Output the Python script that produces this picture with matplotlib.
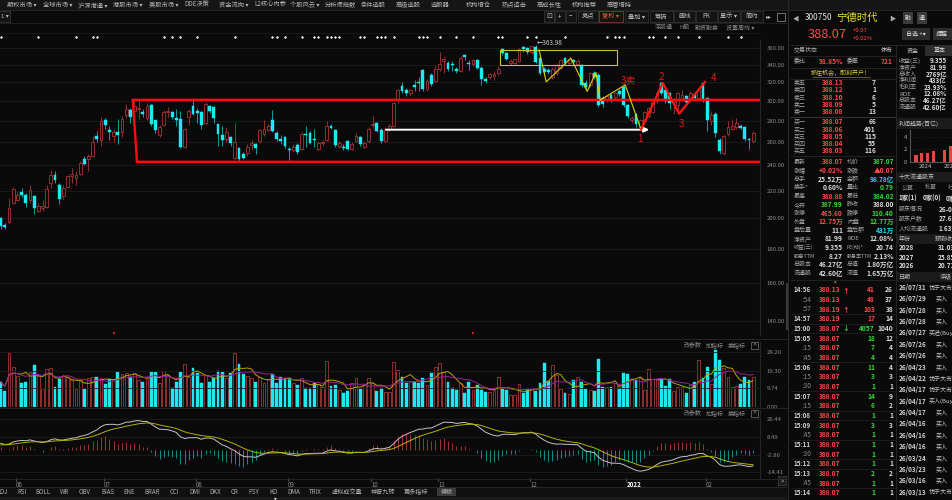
import numpy as np
import pandas as pd
import matplotlib
matplotlib.use("Agg")
import matplotlib.pyplot as plt
from matplotlib.patches import Rectangle
from matplotlib.ticker import FixedLocator, NullLocator
from matplotlib.transforms import blended_transform_factory

plt.rcParams['font.family'] = ['Noto Sans CJK SC', 'DejaVu Sans']

BG = '#0a0a0a'
UP = '#a83434'
DN = '#1de9f2'
DN_WICK = '#14b4bc'
RED = '#ff4a4a'
GREEN = '#35d935'
CYAN = '#19dcf5'
WHITE = '#dcdcdc'
GRAY = '#8c8c8c'
LINE = '#262626'

# ---- daily candles ----
opens = [200, 195.5, 197.5, 211, 213, 219, 217, 213, 215.7, 205,
         207.5, 208, 226, 232, 224.5, 215.7, 223, 231, 230, 233.2,
         245.7, 245, 248, 266, 262.3, 280.5, 271.5, 266, 269.5, 269,
         286, 290.8, 290, 292, 289, 282.5, 295.5, 280.5, 267, 276,
         288.5, 288.8, 282.5, 282, 256, 283.5, 294.5, 289.6, 289, 277.5,
         294.5, 293.9, 276.5, 266.3, 263, 265, 246.2, 254.7, 249.6, 250.3,
         257.5, 258, 261, 267.5, 271.3, 281, 268.8, 262.8, 264.6, 254.3,
         253, 257.4, 254.3, 267, 268.6, 263, 254.3, 259.5, 262.3, 275.3,
         271.3, 257, 256, 260.8, 254.3, 261, 264.6, 256, 260.8, 275.5,
         277.5, 271.3, 261, 272, 275.3, 301.8, 315.5, 311.6, 308, 317,
         319.8, 333.7, 312.5, 328, 321.5, 335.4, 344.5, 342, 341, 335.4,
         333, 351.4, 342, 340.3, 345.3, 336.5, 324, 325.6, 326.5, 330,
         358.4, 353.4, 341.8, 341.8, 344.5, 361, 360, 355, 361.6, 347.7,
         335.4, 334, 325.6, 330, 336.5, 347.7, 342, 345, 340.5, 339.5,
         318.8, 317, 330.6, 328, 302.8, 301.1, 306.3, 303.7, 310, 315,
         296, 280.5, 287, 274, 280, 284.5, 289, 299.4, 318.8, 311.6,
         307.9, 299, 296, 302, 304.5, 301, 306, 303, 318.8, 302.8,
         280, 287, 262.3, 250.6, 267.8, 272.4, 274.3, 275.3, 273.9, 262.8, 261]
highs = [201, 197, 214.5, 223, 219, 222, 218, 224, 217, 211,
         213, 224, 236, 235, 226, 224, 232, 238, 235, 244,
         248, 250, 266, 270, 284, 283, 275, 272, 282, 285,
         297, 293, 301, 301.7, 292, 298, 297, 281, 276, 291,
         294, 290, 292, 290, 273, 292, 303, 293, 290, 299,
         296, 295, 277, 275, 274, 266, 279, 256, 251, 258,
         262, 259, 272.6, 280.7, 277, 290.8, 270, 267, 266, 256,
         258, 259, 269, 275, 270, 272, 261, 262, 280, 277,
         272, 261, 258, 262, 260, 268, 266, 261, 274, 285,
         279, 273, 274, 277, 299, 313, 320, 314, 313, 322,
         326, 335, 323, 330, 340, 355, 349, 344, 344, 337,
         350, 353, 345, 347, 347, 338, 326, 330, 332, 338,
         360, 355, 346, 347, 360, 362, 361, 363, 363.98, 349,
         337, 336, 337, 342, 347, 349, 347, 346, 346, 341,
         322, 331, 332, 330, 305, 306, 308, 309, 312, 317,
         297, 285, 288, 282, 290, 294, 302, 310, 320, 313,
         309, 303, 309, 311, 306, 310, 309, 313, 320, 304,
         290, 289, 264, 267, 280, 282, 283, 277, 275, 264, 270]
lows = [193, 193, 197, 210, 212, 215, 208, 211, 203, 204,
        205, 207, 222, 226, 210, 214, 222, 226, 224, 232,
        240, 235, 247, 260, 257, 272, 262, 260, 258, 265,
        283, 278, 288, 282, 284, 281, 275, 268, 265, 275,
        284, 282, 275, 255, 255, 276, 286, 278, 272, 276,
        288, 278, 257, 257, 260, 257, 245, 243, 245, 248,
        253, 250, 259, 266, 270, 269, 261, 258, 255, 244.5,
        251, 250, 253, 256, 258, 256, 253, 257, 261, 272,
        256, 255, 253, 253, 253, 260, 257, 255, 259, 274,
        269, 259, 260, 270, 274, 298, 308, 305, 305, 310,
        310, 310, 310, 316, 320, 333, 330, 333, 332, 330,
        331, 345, 334, 338, 335, 317, 319, 323, 322, 328,
        352, 345, 340, 340, 343, 355, 353, 353, 342, 328,
        330, 329, 324, 328, 335, 340, 340, 341, 339, 315,
        313, 315, 323, 294, 294, 299, 299, 302, 305, 294,
        283, 278, 274, 271.6, 278, 283, 288, 298, 306, 298,
        292, 287, 290, 300, 297, 299, 301, 301, 299, 270,
        276, 265, 250, 249, 266, 271, 272, 272, 261, 253.8, 259]
closes = [195, 194, 207, 221.5, 217, 216.5, 210.6, 220.7, 207.3, 208.6,
          208.5, 221.4, 232, 228, 214, 221.9, 231, 233, 232, 242.3,
          241.3, 248, 260, 262.5, 279.4, 276, 269, 269.3, 266.5, 282,
          291.5, 283.5, 294.5, 293, 287, 295, 276.5, 271.5, 274, 289,
          289.5, 284, 280.5, 256, 272, 289.6, 287, 287.5, 276, 296.5,
          290, 282.5, 267.3, 262.3, 269, 259.5, 260, 245.3, 246.4, 255.8,
          259.5, 255, 271.3, 272, 275.3, 270.3, 262.8, 261.5, 256.3, 253.2,
          256, 251.6, 267.8, 266.5, 259.6, 262, 259.6, 260.5, 275.3, 273.5,
          257.1, 259.5, 255, 254.3, 258.5, 266, 258.5, 259, 272.4, 277,
          270.5, 261, 272, 275.3, 297.7, 311.6, 309.8, 308, 311.8, 315,
          319, 312.5, 321, 318, 335.4, 341, 346.5, 335.4, 339, 333,
          347.7, 349.3, 340.3, 345.3, 336.5, 324, 321.5, 328.7, 329.5, 335.4,
          353.4, 346.2, 344.5, 346, 358.4, 358.5, 355, 362, 343.3, 330,
          331.8, 331.8, 335.4, 340, 345, 342, 345, 343, 344.5, 317,
          315, 330, 325.6, 296, 297, 304.5, 301, 307.9, 307, 296,
          285, 283, 277, 281, 289, 292.5, 301, 308, 308, 299.4,
          297.7, 302, 308, 306, 299, 308, 303, 311, 301, 281,
          286, 268, 252, 265.4, 274.2, 275.3, 277.5, 273.5, 262.8, 261.6, 268.6]
# volume in 万手
volumes = [13.3, 8.4, 28.8, 21.0, 16.4, 12.5, 13.0, 18.7, 22.2, 16.4,
           9.8, 20.1, 20.5, 10.7, 14.6, 16.4, 16.0, 14.2, 9.3, 14.2,
           9.4, 15.1, 16.0, 15.7, 15.1, 11.9, 14.6, 14.6, 18.7, 17.3,
           17.8, 16.0, 17.8, 14.2, 13.0, 14.8, 18.5, 18.5, 12.5, 19.2,
           16.9, 9.8, 13.3, 18.5, 22.6, 15.7, 20.8, 17.8, 12.8, 16.9,
           13.3, 15.1, 19.0, 18.3, 15.1, 17.8, 28.8, 22.8, 17.4, 16.4,
           15.1, 13.3, 16.0, 12.5, 14.6, 17.4, 12.5, 16.0, 15.1, 15.1,
           12.5, 11.6, 15.1, 9.8, 9.8, 12.5, 12.1, 10.7, 24.4, 11.2,
           11.4, 8.9, 7.1, 8.5, 12.5, 15.1, 9.3, 11.6, 15.1, 12.5,
           8.4, 9.8, 8.0, 8.0, 23.7, 19.6, 15.7, 12.8, 13.9, 13.3,
           12.5, 15.1, 11.6, 17.8, 21.0, 23.1, 18.3, 13.3, 9.8, 8.9,
           12.5, 7.1, 13.3, 8.9, 11.6,
           8.9, 8.0, 8.0, 8.9, 16.0, 9.3, 8.9, 6.2, 6.2, 12.1,
           7.5, 9.3, 9.4, 8.5, 12.5, 23.1, 13.9, 22.2, 16.9, 9.3,
           7.5, 6.8, 14.2, 16.0, 13.0, 9.3, 8.9, 8.5, 25.3, 10.3,
           10.3, 10.3, 12.8, 9.8, 18.1, 17.3, 14.8, 14.2, 15.1, 8.9,
           19.9, 14.6, 14.2, 14.6, 11.0, 14.6, 8.5, 10.7, 10.7, 7.5,
           11.6, 13.3, 24.9, 15.1, 21.4, 12.1, 30.2, 24.9, 20.5, 16.0,
           10.7, 11.2, 11.9, 16.0, 14.2, 16.0]

month_idx = [4, 25, 47, 69, 89, 105, 127, 150, 169]
month_lbl = ['06', '07', '08', '09', '10', '11', '12', '2022', '02']
price_ticks = [140, 160, 180, 200, 220, 240, 260, 280, 300, 320, 340, 360]
vol_ticks = [0, 9.74, 19.30, 29.20]
macd_ticks = [-14.41, -2.86, 8.49, 20.44]
# MACD state before the first visible day
dif_start, dea_start = 4.6, 3.5

# event markers above the candles, red marks at the bottom
event_idx = [0, 9, 18, 22, 23, 39, 41, 43, 47, 56, 65, 66, 68, 72, 75, 76, 78, 79,
             80, 81, 86, 87, 90, 91, 92, 94, 100, 101, 102, 105, 109, 113, 119, 120,
             126, 128, 135, 145, 147, 148, 149, 155, 156, 159, 162, 167, 174, 177]
red_mark_idx = [27, 113]

# hand drawings on the chart (candle index, price)
box_top, box_bottom = 301, 243
box_left = (31.6, 32.6)
arrow_y, arrow_x = 271.5, (91.5, 155.8)
ybox_x, ybox_y = (119.5, 147.4), (339.5, 358)
yzz_x = [128.8, 130.5, 136.4, 140.3, 142.4, 143.4, 149.4, 153.2]
yzz_y = [357.5, 320.2, 347.7, 309.9, 330.8, 300.7, 317.0, 271.6]
rzz_x = [153.2, 158.4, 162.3, 168.5]
rzz_y = [271.6, 319.1, 286.9, 320.2]
wave_labels = [("3卖", 150.1, 322.3), ("1", 152.9, 263.2), ("2", 158.0, 325.9),
               ("3", 162.8, 277.3), ("4", 170.6, 324.8)]
hi_idx, hi_val = 128, 363.98

# ---- figure ----
W, H = 953, 500
fig = plt.figure(figsize=(W / 100, H / 100), dpi=100, facecolor=BG)


def px_axes(x0, y0, x1, y1):
    a = fig.add_axes([x0 / W, 1 - y1 / H, (x1 - x0) / W, (y1 - y0) / H])
    a.set_facecolor(BG)
    for s in a.spines.values():
        s.set_visible(False)
    return a


n = len(closes)
x = np.arange(n)
o = np.array(opens); c = np.array(closes); hi = np.array(highs); lo = np.array(lows)
v = np.array(volumes)
up = c >= o
XL = (-0.17, 181.65)

# price panel
ax = px_axes(0, 40, 760, 335)
ax.set_yscale('log')
ax.set_xlim(*XL)
ax.set_ylim(133.6, 370.1)
ax.yaxis.set_major_locator(FixedLocator(price_ticks))
ax.yaxis.set_minor_locator(NullLocator())
ax.set_yticklabels([f"{t:.2f}" for t in price_ticks])
ax.yaxis.tick_right()
ax.tick_params(axis='y', length=0, pad=5, labelsize=4.3, labelcolor=GRAY)
ax.set_xticks([])
ax.grid(axis='y', color='#1c1c1c', lw=0.6)
ax.spines['right'].set_visible(True)
ax.spines['right'].set_color(LINE)

ax.vlines(x[up], lo[up], hi[up], color=UP, lw=0.6, zorder=2)
ax.vlines(x[~up], lo[~up], hi[~up], color=DN_WICK, lw=0.6, zorder=2)
body = np.maximum(np.abs(c - o), 0.6)
ax.bar(x[up], body[up], bottom=np.minimum(o, c)[up], width=0.68,
       facecolor=BG, edgecolor=UP, lw=0.6, zorder=3)
ax.bar(x[~up], body[~up], bottom=np.minimum(o, c)[~up], width=0.68,
       facecolor=DN, edgecolor=DN, lw=0.3, zorder=3)

ax.plot([XL[1], box_left[0], box_left[1], XL[1]], [box_top, box_top, box_bottom, box_bottom],
        color='#ff0a0a', lw=1.7, zorder=5, solid_joinstyle='miter')
ax.annotate('', xy=(arrow_x[1], arrow_y), xytext=(arrow_x[0], arrow_y),
            arrowprops=dict(arrowstyle='-|>', color='white', lw=1.4, mutation_scale=7), zorder=5)
ax.add_patch(Rectangle((ybox_x[0], ybox_y[0]), ybox_x[1] - ybox_x[0], ybox_y[1] - ybox_y[0],
                       fill=False, edgecolor='#c8c81e', lw=0.8, zorder=5))
ax.plot(yzz_x, yzz_y, color='#d6d600', lw=0.8, zorder=5)
ax.plot(rzz_x, rzz_y, color='#ff1515', lw=1.6, zorder=5)
for s, lx, ly in wave_labels:
    ax.text(lx, ly, s, color='#e01818', fontsize=7.2, ha='center', va='center', zorder=6)
ax.annotate('←363.98', xy=(hi_idx, hi_val), xytext=(hi_idx + 0.2, hi_val * 1.006),
            color='#d0d0d0', fontsize=4.6, ha='left', va='center')
btr = blended_transform_factory(ax.transData, ax.transAxes)
ax.scatter(event_idx, [1.011] * len(event_idx), s=2.5, marker='D', color='#e8e8e8',
           transform=btr, clip_on=False, lw=0)
ax.scatter(red_mark_idx, [0.008] * len(red_mark_idx), s=3, marker='s', color='#d02020',
           transform=btr, clip_on=False, lw=0)

# volume panel
av = px_axes(0, 342, 760, 406.7)
av.set_xlim(*XL)
av.set_ylim(0, 34.5)
av.yaxis.tick_right()
av.set_yticks(vol_ticks)
av.set_yticklabels([f"{t:.2f}" for t in vol_ticks])
av.tick_params(axis='y', length=0, pad=5, labelsize=4.3, labelcolor=GRAY)
av.set_xticks([])
av.grid(axis='y', color='#1c1c1c', lw=0.6)
av.spines['right'].set_visible(True)
av.spines['right'].set_color(LINE)
av.bar(x[up], v[up], width=0.68, facecolor=BG, edgecolor=UP, lw=0.6)
av.bar(x[~up], v[~up], width=0.68, facecolor=DN, edgecolor=DN, lw=0.3)
vs = pd.Series(v)
av.plot(x, vs.rolling(5, min_periods=1).mean(), color='#b0a800', lw=0.7)
av.plot(x, vs.rolling(10, min_periods=1).mean(), color='#9b1fa0', lw=0.7)

# MACD panel
am = px_axes(0, 410, 760, 478)
am.set_xlim(*XL)
am.set_ylim(-18.1, 26.3)
e12 = [c[0] + dif_start * 1.2]
e26 = [c[0] + dif_start * 0.2]
for p in c[1:]:
    e12.append(e12[-1] + 2 / 13 * (p - e12[-1]))
    e26.append(e26[-1] + 2 / 27 * (p - e26[-1]))
dif = np.array(e12) - np.array(e26)
dea = [dea_start]
for d in dif[1:]:
    dea.append(dea[-1] + 2 / 10 * (d - dea[-1]))
dea = np.array(dea)
hist = 2 * (dif - dea)
am.vlines(x[hist >= 0], 0, hist[hist >= 0], color='#a03333', lw=0.7)
am.vlines(x[hist < 0], 0, hist[hist < 0], color='#128c8c', lw=0.7)
am.plot(x, dif, color='#c4c4c4', lw=0.7)
am.plot(x, dea, color='#b5b000', lw=0.7)
am.yaxis.tick_right()
am.set_yticks(macd_ticks)
am.set_yticklabels([f"{t:.2f}" for t in macd_ticks])
am.tick_params(axis='y', length=0, pad=5, labelsize=4.3, labelcolor=GRAY)
am.grid(axis='y', color='#1c1c1c', lw=0.6)
am.set_xticks([i - 0.3 for i in month_idx])
am.set_xticklabels(month_lbl)
am.tick_params(axis='x', length=2, color='#555555', labelsize=4.4, labelcolor=GRAY, pad=0.2)
plt.setp(am.get_xticklabels(), ha='left')
for lbl in am.get_xticklabels():
    if lbl.get_text() == '2022':
        lbl.set_color('white'); lbl.set_fontweight('bold')
am.spines['right'].set_visible(True)
am.spines['right'].set_color(LINE)

# ---- UI chrome ----
ui = fig.add_axes([0, 0, 1, 1], zorder=10)
ui.set_xlim(0, W); ui.set_ylim(H, 0); ui.axis('off'); ui.patch.set_alpha(0)


def T(x0, y0, s, col=WHITE, fs=4.5, ha='left', va='center', **kw):
    ui.text(x0, y0, s, color=col, fontsize=fs, ha=ha, va=va, **kw)


def R(x0, y0, x1, y1, fc='none', ec='none', lw=0.6):
    ui.add_patch(Rectangle((x0, y0), x1 - x0, y1 - y0, facecolor=fc, edgecolor=ec, lw=lw))


def L(x0, y0, x1, y1, col=LINE, lw=0.6):
    ui.plot([x0, x1], [y0, y1], color=col, lw=lw, solid_capstyle='butt')


# top menu
R(0, 0, W, 10, fc='#151515')
menu = [("期权市场 ▾", 7), ("全球市场 ▾", 43), ("沪深港通 ▾", 78), ("港股市场 ▾", 113),
        ("美股市场 ▾", 149), ("DDE决策", 184), ("资金流向 ▾", 219), ("L2核心内参", 254),
        ("个股风云 ▾", 290), ("分析师指数", 325), ("条件选股", 361), ("高级选股", 396),
        ("选股器", 431), ("机构增仓", 466), ("热点追击", 502), ("高成长性", 537),
        ("机构推荐", 572), ("高管增持", 607)]
for s, mx in menu:
    T(mx, 5, s, '#b4b4b4', 4.5)
L(0, 10, W, 10, '#2a2a2a')

# toolbar
R(-1, 11, 10, 22, fc='#141414', ec='#333333')
T(1, 16.5, "1 ▾", '#bbbbbb', 4.3)
R(544, 11, 554, 22, fc='#141414', ec='#333333')
T(549, 16.5, "⊡", '#bbbbbb', 5, ha='center')
buttons = [("+", 555, 565), ("−", 566, 576), ("亮点", 578, 598), ("复权 ▾", 599, 623),
           ("叠加 ▾", 625, 648), ("筹码", 650, 673), ("画线", 674, 695), ("PK", 696, 717),
           ("显示 ▾", 718, 740), ("简约", 741, 763)]
for s, bx0, bx1 in buttons:
    hot = s.startswith("复权")
    R(bx0, 11, bx1, 22, fc='#131313', ec='#8a3a1a' if hot else '#303030')
    T((bx0 + bx1) / 2, 16.5, s, '#e06030' if hot else '#c0c0c0', 4.5, ha='center')
T(769, 16.5, "▸▸", '#bbbbbb', 4.2, ha='center')
R(777, 12.5, 785, 20.5, ec='#999999', lw=0.5)
L(0, 22.5, 787, 22.5, '#232323')
for s, sx in [("深股通", 655), ("H股", 679), ("融资融券", 695), ("设置周线 ▾", 726)]:
    T(sx, 27.5, s, '#8a8a8a', 4.3)
L(0, 33, 760, 33, '#1a1a1a')

# chart separators and panel headers
L(0, 338.5, 787, 338.5, '#2a2a2a')
L(0, 408, 787, 408, '#2a2a2a')
L(0, 478.5, 787, 478.5, '#2a2a2a')
for hy in (345, 413):
    for s, hx in [("改参数", 684), ("加指标", 706), ("换指标", 728)]:
        T(hx, hy, s, '#8a8a8a', 4.3)
    R(751, hy - 3.5, 758, hy + 3.5, ec='#777777', lw=0.5)
    T(754.5, hy, "×", '#999999', 4.3, ha='center')
L(788, 0, 788, H, '#2a2a2a', 0.8)
R(786.5, 283, 789.5, 330, fc='#3a3a3a')
R(778, 476, 786, 485, fc='#1c1c1c', ec='#444444', lw=0.5)
T(782, 480.5, "»", '#bbbbbb', 4.5, ha='center')

# indicator tabs
R(0, 487, 787, 497, fc='#101010')
L(0, 487, 787, 487, '#2a2a2a')
tabs = [("KDJ", 7.5), ("RSI", 17), ("BOLL", 35), ("WR", 60), ("OBV", 79), ("BIAS", 101),
        ("ENE", 123), ("BRAR", 144), ("CCI", 170), ("DMI", 189), ("DKX", 209), ("CR", 231),
        ("PSY", 248), ("KD", 269), ("DMA", 287), ("TRIX", 309), ("虚拟成交量", 332),
        ("神奇九转", 371), ("更多指标", 404), ("模板", 441)]
R(437, 487.5, 456, 496, fc='#3a3a3a')
for s, tx in tabs:
    T(tx, 492, s, '#b0b0b0', 4.4, ha='right' if s == 'KDJ' else 'left')
R(0, 497, 787, 500, fc='#1a1a1a')
T(275, 498.5, "▾", '#dddddd', 4, ha='center')

# ---- right panel ----
T(796, 18, "◀", '#aaaaaa', 4.5, ha='center')
T(805, 18, "300750", '#e0e0e0', 6.0)
T(836, 18, "宁德时代", '#e8e030', 7.5)
T(892, 18, "▶", '#aaaaaa', 4.5, ha='center')
for s, bx in [("融", 903), ("通", 917)]:
    R(bx, 12, bx + 10, 24, fc='#3c3c3c')
    T(bx + 5, 18, s, '#dddddd', 4.3, ha='center')
T(808, 34, "388.07", RED, 9.2)
T(853, 30, "+0.07", RED, 4.3)
T(853, 38, "+0.02%", RED, 4.3)
R(902, 28, 930, 40, fc='#2c2c2c')
T(916, 34, "自选 +▾", '#dddddd', 4.3, ha='center')
R(933, 28, 955, 40, fc='#2c2c2c')
T(936, 34, "提醒", '#dddddd', 4.3)
L(790, 44.5, W, 44.5, '#2a2a2a')
L(896.5, 44.5, 896.5, H, '#2a2a2a')

T(794, 50.5, "交易状态", '#b0b0b0', 4.3)
T(893, 50.5, "休市", '#dddddd', 4.3, ha='right')
R(925, 45, 955, 56, fc='#2e2e2e')
T(913, 50.5, "资金", '#c0c0c0', 4.3, ha='center')
T(940, 50.5, "基本", '#dddddd', 4.3, ha='center')
L(790, 56, 896, 56)
T(794, 61.7, "委比", '#b0b0b0', 4.3)
T(843, 61.7, "91.85%", RED, 4.8, ha='right', fontweight='bold')
T(847, 61.7, "委差", '#b0b0b0', 4.3)
T(893, 61.7, "721", RED, 4.8, ha='right', fontweight='bold')
L(790, 67.5, 896, 67.5)
T(841, 73, "抓住机会，即刻开户！", '#d8d040', 4.3, ha='center')
L(812, 77, 870, 77, '#a8a030', 0.4)
L(790, 78.5, 896, 78.5)

sell_book = [("卖五", "388.13", "7"), ("卖四", "388.12", "1"), ("卖三", "388.10", "6"),
             ("卖二", "388.09", "5"), ("卖一", "388.08", "13")]
buy_book = [("买一", "388.07", "66"), ("买二", "388.06", "401"), ("买三", "388.05", "115"),
            ("买四", "388.04", "55"), ("买五", "388.03", "116")]
for k, (lab, pr, q) in enumerate(sell_book):
    yy = 82.7 + 7.25 * k
    T(794, yy, lab, '#a8a8a8', 4.3); T(822, yy, pr, RED, 4.8, fontweight='bold')
    T(876, yy, q, WHITE, 4.8, ha='right', fontweight='bold')
L(790, 116.5, 896, 116.5, '#3a3a3a')
for k, (lab, pr, q) in enumerate(buy_book):
    yy = 121.7 + 7.3 * k
    T(794, yy, lab, '#a8a8a8', 4.3); T(822, yy, pr, RED, 4.8, fontweight='bold')
    T(876, yy, q, WHITE, 4.8, ha='right', fontweight='bold')
L(790, 156, 896, 156)

quote_rows = [("最新", "388.07", RED, "均价", "387.07", GREEN),
              ("涨幅", "+0.02%", RED, "涨跌", "▲0.07", RED),
              ("总手", "25.52万", WHITE, "金额", "98.78亿", CYAN),
              ("换手*", "0.60%", WHITE, "量比", "0.79", GREEN),
              ("最高", "388.88", RED, "最低", "384.02", GREEN),
              ("今开", "387.99", GREEN, "昨收", "388.00", WHITE),
              ("涨停", "465.60", RED, "跌停", "310.40", GREEN),
              ("外盘", "12.75万", RED, "内盘", "12.77万", GREEN),
              ("盘后量", "111", WHITE, "盘后额", "431万", CYAN),
              ("净资产", "81.99", WHITE, "ROE", "12.08%", WHITE),
              ("收益(三)", "9.355", WHITE, "PE(动)*", "20.74", WHITE),
              ("股息TTM", "8.27", WHITE, "股息率TTM", "2.13%", WHITE),
              ("总股本", "46.27亿", WHITE, "总值", "1.80万亿", WHITE),
              ("流通股", "42.60亿", WHITE, "流值", "1.65万亿", WHITE)]
for k, (l1, v1, c1, l2, v2, c2) in enumerate(quote_rows):
    yy = 162 + 8.55 * k
    T(794, yy, l1, '#a8a8a8', 4.3 if len(l1) < 5 else 3.8)
    T(843, yy, v1, c1, 4.8, ha='right', fontweight='bold')
    T(847, yy, l2, '#a8a8a8', 4.3 if len(l2) < 6 else 3.6)
    T(894, yy, v2, c2, 4.8, ha='right', fontweight='bold')
L(790, 280, 896, 280)
T(835, 282, "▴", '#888888', 3.5, ha='center')

trades = [("14:56", "388.13", "↑", "41", "26"), (":54", "388.13", "", "48", "37"),
          (":57", "388.19", "↑", "103", "38"), ("14:57", "388.19", "", "17", "14"),
          ("15:00", "388.07", "↓", "4057", "1040"), ("15:05", "388.07", "", "18", "12"),
          (":15", "388.07", "", "7", "4"), (":45", "388.07", "", "4", "4"),
          ("15:06", "388.07", "", "11", "4"), (":15", "388.07", "", "3", "3"),
          (":30", "388.07", "", "1", "1"), ("15:07", "388.07", "", "14", "9"),
          (":15", "388.07", "", "6", "2"), ("15:08", "388.07", "", "1", "1"),
          ("15:09", "388.07", "", "3", "3"), (":45", "388.07", "", "1", "1"),
          ("15:11", "388.07", "", "1", "1"), (":30", "388.07", "", "1", "1"),
          ("15:12", "388.07", "", "1", "1"), ("15:13", "388.07", "", "2", "2"),
          (":45", "388.07", "", "1", "1"), ("15:14", "388.07", "", "1", "1")]
for k, (tm, pr, ar, q, cnt) in enumerate(trades):
    yy = 290 + 9.65 * k
    full = not tm.startswith(":")
    if full and k > 0:
        L(790, yy - 4.8, 896, yy - 4.8, '#1f1f1f')
    T(794 if full else 803, yy, tm, '#d0d0d0' if full else '#8a8a8a', 4.6,
      fontweight='bold' if full else 'normal')
    T(819, yy, pr, RED, 4.8, fontweight='bold')
    if ar:
        T(842, yy, ar, RED if ar == "↑" else GREEN, 4.8, fontweight='bold')
    T(875, yy, q, RED if k < 4 else GREEN, 4.8, ha='right', fontweight='bold')
    T(893, yy, cnt, WHITE, 4.8, ha='right', fontweight='bold')

fin_rows = [("收益(三)", "9.355"), ("净资产", "81.99"), ("总收入", "2769亿"), ("净利润", "433亿"),
            ("毛利率", "23.93%"), ("ROE", "12.08%"), ("总股本", "46.27亿"), ("流通股", "42.60亿")]
for k, (lab, val) in enumerate(fin_rows):
    yy = 60.7 + 6.66 * k
    T(899, yy, lab, '#a8a8a8', 4.3)
    T(947, yy, val, WHITE, 4.6, ha='right', fontweight='bold')
R(897, 118, W, 129, fc='#1b1b1b')
T(899, 123.5, "利润趋势(百亿)", '#c0c0c0', 4.3)

profit_q = [0, 1, 2, 3, 5, 6]
profit_val = [1.07, 1.33, 1.44, 1.71, 1.87, 2.5]
ap = px_axes(910, 130, 953, 161.7)
ap.set_xlim(-1.05, 6.49)
ap.set_ylim(0, 5.07)
ap.bar(profit_q, profit_val, width=0.55, color='#e04848')
ap.set_yticks([0, 2, 4])
ap.set_yticklabels(['0', '2', '4'])
ap.tick_params(axis='y', length=0, pad=2, labelsize=4.3, labelcolor='#aaaaaa')
ap.set_xticks([])
ap.grid(axis='y', color='#333333', lw=0.4, ls=':')
ap.spines['left'].set_visible(True); ap.spines['left'].set_color('#555555')
ap.spines['bottom'].set_visible(True); ap.spines['bottom'].set_color('#555555')
ap.set_zorder(11)
T(925, 167, "2024", '#c0c0c0', 4.3, ha='center')
T(944, 167, "2025", '#c0c0c0', 4.3)

R(897, 171.5, W, 182, fc='#1b1b1b')
T(899, 176.7, "十大流通股东", '#c0c0c0', 4.3)
for s, sx in [("公募", 902), ("私募", 925), ("社保", 948)]:
    T(sx, 187.7, s, '#8a8a8a', 4.3)
for s, sx in [("1家(1)", 899), ("0家(0)", 923), ("0家", 946)]:
    T(sx, 198.7, s, WHITE, 4.6, fontweight='bold')
for k, (lab, val) in enumerate([("股东情况", "26-06-30"), ("股东户数", "27.65万"), ("人均流通股", "1.63万")]):
    yy = 209 + 9.9 * k
    T(899, yy, lab, '#a8a8a8', 4.3)
    T(939, yy, val, WHITE, 4.6, fontweight='bold')
R(897, 234, W, 244, fc='#1b1b1b')
T(899, 239, "年份", '#c0c0c0', 4.3)
T(935, 239, "预测收益", '#c0c0c0', 4.3)
for k, (yr, eps) in enumerate([("2028", "31.03"), ("2027", "25.85"), ("2026", "20.71")]):
    yy = 248 + 9 * k
    T(899, yy, yr, WHITE, 4.6, fontweight='bold')
    T(938, yy, eps, WHITE, 4.6, fontweight='bold')
R(897, 272, W, 282, fc='#1b1b1b')
T(899, 277, "日期", '#c0c0c0', 4.3)
T(940, 277, "评级", '#c0c0c0', 4.3)

ratings = [("26/07/31", "优于大市"), ("26/07/29", "买入"), ("26/07/28", "买入"), ("26/07/28", "买入"),
           ("26/07/27", "买进(Buy)"), ("26/07/26", "买入"), ("26/07/26", "买入"), ("26/04/23", "买入"),
           ("26/04/22", "优于大市"), ("26/04/17", "优于大市"), ("26/04/17", "买入(Buy)"),
           ("26/04/17", "买入"), ("26/04/16", "买入"), ("26/04/16", "买入"), ("26/04/16", "买入"),
           ("26/03/24", "买入"), ("26/03/23", "买入"), ("26/03/16", "买入"), ("26/03/13", "优于大市")]
for k, (d, r) in enumerate(ratings):
    yy = 287.5 + 11.37 * k
    T(899, yy, d, '#d0d0d0', 4.6, fontweight='bold')
    T(936 if r == "买入" else 929, yy, r, '#c8c8c8', 4.3)

fig.savefig("out.png", dpi=100, facecolor=BG)
